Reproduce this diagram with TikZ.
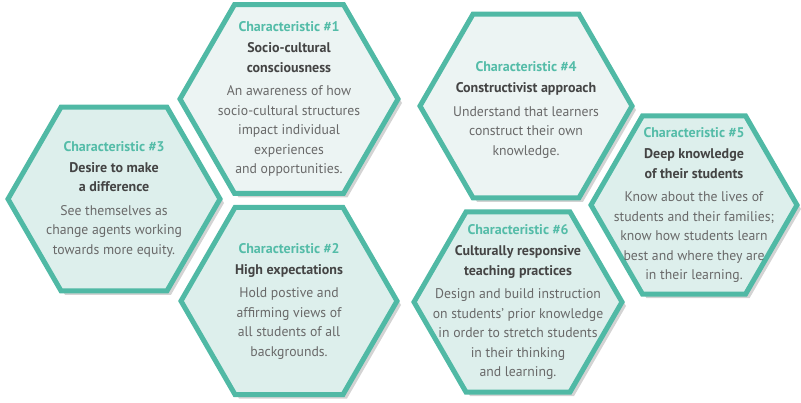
\documentclass[tikz,border=0pt]{standalone}
\usepackage{fontspec}
\setmainfont[FakeStretch=0.98]{PT Sans}
\newfontfamily\headfont{PT Sans}
\usepackage{tikz}
\usetikzlibrary{shapes.geometric,shadows,positioning}
\definecolor{hexline}{RGB}{80,185,165}
\definecolor{hexfill}{RGB}{221,239,236}
\definecolor{hexpale}{RGB}{236,244,243}
\definecolor{headteal}{RGB}{84,188,168}
\definecolor{titlegray}{RGB}{68,68,68}
\definecolor{bodygray}{RGB}{105,105,105}
\newcommand{\charhead}[1]{\textcolor{headteal}{\headfont\bfseries Characteristic \##1}}
\newcommand{\chartitle}[1]{\textcolor{titlegray}{\headfont\bfseries #1}}

\begin{document}
\begin{tikzpicture}[x=1pt,y=-1pt,
                    every node/.style={align=center}]
  \tikzstyle{hexa}=[regular polygon,regular polygon sides=6,draw=hexline,
                    line width=5pt,inner sep=0pt,fill=hexfill,
                    drop shadow={shadow xshift=4pt,shadow yshift=-4pt,opacity=0.35}]
  \tikzstyle{txt}=[font=\fontsize{14}{19.5}\selectfont,text=bodygray]

  \useasboundingbox (0,0) rectangle (801,402);

  \node[hexa,minimum size=218pt,fill=hexpale] (1) at (289,99) {};
  \node[hexa,minimum size=216pt] (2) at (289,301) {};
  \node[hexa,minimum size=212pt] (3) at (114,199) {};
  \node[hexa,minimum size=212pt,fill=hexpale] (4) at (526,106) {};
  \node[hexa,minimum size=206pt] (5) at (694,205) {};
  \node[hexa,minimum size=208pt] (6) at (518,302) {};

  \node[txt] (t1) at (1.center) {\charhead{1}\\[1.5pt]\chartitle{Socio-cultural}\\
    \chartitle{consciousness}\\[4pt]
    An awareness of how\\socio-cultural structures\\impact individual\\experiences\\and opportunities.};
  \node[txt] (t2) at (2.center) {\charhead{2}\\[1.5pt]\chartitle{High expectations}\\[4pt]
    Hold postive and\\affirming views of\\all students of all\\backgrounds.};
  \node[txt] (t3) at (3.center) {\charhead{3}\\[1.5pt]\chartitle{Desire to make}\\
    \chartitle{a difference}\\[4pt]
    See themselves as\\change agents working\\towards more equity.};
  \node[txt,yshift=-4pt] (t4) at (4.center) {\charhead{4}\\[1.5pt]\chartitle{Constructivist approach}\\[4pt]
    Understand that learners\\construct their own\\knowledge.};
  \node[txt] (t5) at (5.center) {\charhead{5}\\[1.5pt]\chartitle{Deep knowledge}\\
    \chartitle{of their students}\\[4pt]
    Know about the lives of\\students and their families;\\know how students learn\\best and where they are\\in their learning.};
  \node[txt] (t6) at (6.center) {\charhead{6}\\[1.5pt]\chartitle{Culturally responsive}\\
    \chartitle{teaching practices}\\[4pt]
    Design and build instruction\\on students' prior knowledge\\in order to stretch students\\in their thinking\\and learning.};
\end{tikzpicture}
\end{document}
